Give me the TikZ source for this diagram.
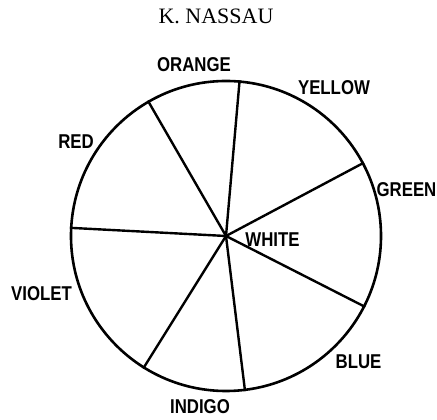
\documentclass[tikz,border=0pt]{standalone}
\usepackage{fontspec}
\setmainfont{Liberation Serif}
\newfontfamily\letterfont{Liberation Sans}[FakeStretch=0.84]
\usetikzlibrary{positioning}

\begin{document}
\begin{tikzpicture}[
    x=1pt, y=1pt,
    wheel/.style={draw, circle, line width=2.6pt, minimum size=310pt, inner sep=0pt},
    spoke/.style={line width=2.4pt},
    hue/.style={font=\letterfont\bfseries\fontsize{20}{20}\selectfont, inner sep=0pt}
]
    \useasboundingbox (0,0) rectangle (437,420);
    \node[font=\fontsize{22}{22}\selectfont, inner sep=0pt] (author) at (216,404) {K. NASSAU};

    \node[wheel] (wheel) at (226,184) {};
    \foreach \a in {28.7, 85.5, 120, 177.7, 238.9, 277.7, 333.8}
        \draw[spoke] (wheel.center) -- (wheel.\a);

    \node[hue] (orange) at (194,355) {ORANGE};
    \node[hue] (yellow) at (334,332) {YELLOW};
    \node[hue] (green) at (406.5,230) {GREEN};
    \node[hue] (red) at (76,278) {RED};
    \node[hue] (white) at (272.5,180.5) {WHITE};
    \node[hue] (violet) at (41.5,126.5) {VIOLET};
    \node[hue] (blue) at (358.5,58) {BLUE};
    \node[hue] (indigo) at (200,13.5) {INDIGO};
\end{tikzpicture}
\end{document}
